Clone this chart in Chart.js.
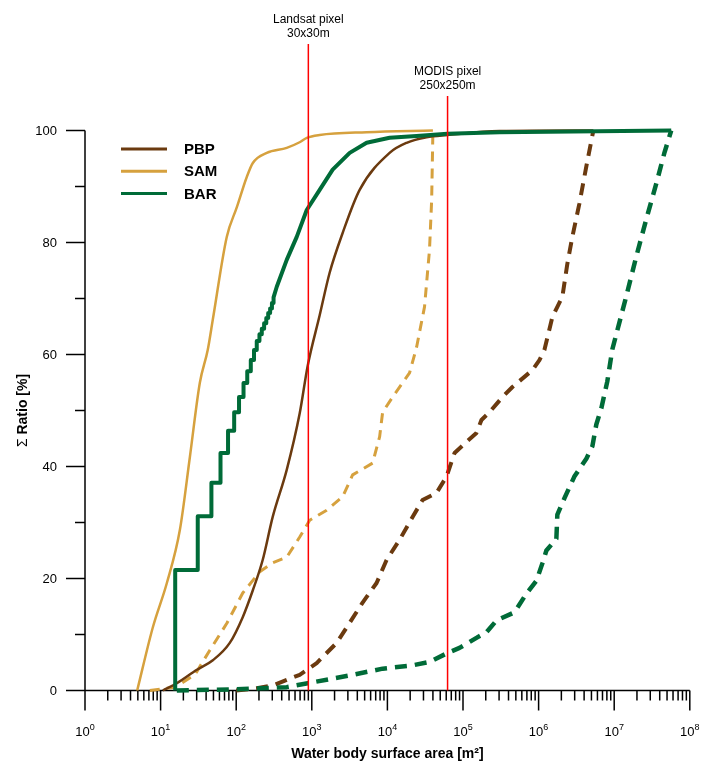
<!DOCTYPE html>
<html><head><meta charset="utf-8">
<script src="https://cdn.jsdelivr.net/npm/chart.js@4"></script>
<style>html,body{margin:0;padding:0;background:#fff}#wrap{width:702px;height:762px;position:relative}</style>
</head><body><div id="wrap"><canvas id="c" width="702" height="762"></canvas></div>
<script>
// ---------- data ----------
const seriesNames = ['PBP', 'SAM', 'BAR'];
const xTickExponents = [0, 1, 2, 3, 4, 5, 6, 7, 8];
const xMinorMultipliers = [2, 3, 4, 5, 6, 7, 8, 9];
const yMajorTicks = [0, 20, 40, 60, 80, 100];
const yMinorTicks = [10, 30, 50, 70, 90];
const markerValues = [900, 62500];
const markerLabels = [['Landsat pixel', '30x30m'], ['MODIS pixel', '250x250m']];

const pbpSolidX = [10.7, 16.4, 30.2, 49.1, 82.2, 122, 166, 224, 304, 466, 692, 883, 1271, 1722, 2559, 4295, 10690, 17950, 32960, 62370, 303400, 5300000];
const pbpSolidY = [0, 1.3, 3.7, 5.4, 8.5, 13.1, 17.9, 23.3, 31.0, 39.4, 49.5, 58.0, 67.0, 74.6, 81.7, 89.4, 96.0, 97.8, 98.8, 99.2, 99.9, 100];

const pbpDashX = [100, 187, 304, 466, 692, 1161, 2133, 3170, 4700, 7194, 9750, 14490, 21530, 29170, 44670, 60540, 77250, 111200, 150700, 175400, 223900, 332600, 450800, 827900, 1025000, 1193000, 1522000, 2062000, 2400000, 2794000, 3457000, 4280000, 5300000];
const pbpDashY = [0, 0.4, 0.9, 1.9, 2.8, 4.9, 8.5, 12.1, 15.7, 19.2, 23.3, 26.9, 31.0, 34.0, 35.3, 38.2, 42.4, 44.4, 46.0, 48.3, 49.7, 52.4, 54.2, 57.2, 59.0, 60.8, 66.7, 70.3, 76.2, 81.0, 86.9, 93.6, 100];

const samSolidX = [4.9, 7.9, 12.1, 18, 24.4, 33, 42, 49, 75, 102, 138, 166, 254, 466, 690, 860, 1270, 5300, 40000];
const samSolidY = [0, 11.3, 19.2, 28.7, 41.7, 54.9, 60.8, 66.2, 81.0, 86.3, 91.7, 94.2, 96.0, 96.9, 97.9, 98.7, 99.2, 99.7, 100];

const samDashX = [7.2, 15.5, 28.4, 44.8, 75.2, 122, 205, 304, 466, 692, 938, 1574, 2559, 3467, 6368, 7889, 8650, 11722, 19634, 24322, 30974, 36058, 38500, 40000];
const samDashY = [0, 0.6, 2.8, 7.2, 12.0, 17.4, 21.2, 22.8, 23.8, 27.4, 30.4, 32.2, 34.6, 38.5, 40.6, 45.3, 49.7, 52.4, 56.7, 61.3, 68.5, 78.7, 87.6, 100];

// BAR solid: discrete steps at small areas, then a smooth curve
const barStepX = [15.6, 31, 47, 62, 78, 94, 109, 125, 140, 156, 172, 187, 203, 218, 234, 250, 265, 281, 297, 312];
const barStepY = [21.5, 31.1, 37.1, 42.4, 46.4, 49.7, 52.4, 54.9, 57.0, 59.0, 60.8, 62.4, 63.6, 64.6, 65.6, 66.5, 67.4, 68.2, 69.2, 70.2];
const barCurveX = [344, 466, 632, 857, 1271, 1888, 3170, 5309, 10690, 24320, 62370, 303400, 56800000];
const barCurveY = [72.1, 76.9, 81.0, 85.8, 89.4, 93.0, 96.0, 97.8, 98.7, 99.0, 99.4, 99.7, 100];

const barDashX = [16.4, 90.2, 205, 466, 883, 3170, 8650, 21530, 36060, 62370, 89920, 150700, 204200, 277200, 450800, 524800, 690200, 935400, 1122000, 1268000, 1718000, 1770000, 2191000, 2970000, 4280000, 5140000, 5800000, 6760000, 8110000, 9440000, 14450000, 19600000, 26500000, 36000000, 45900000, 56800000];
const barDashY = [0, 0.2, 0.4, 0.6, 1.3, 2.7, 3.9, 4.5, 5.1, 6.7, 7.6, 9.4, 10.4, 12.5, 13.8, 14.8, 17.3, 19.6, 22.7, 25.0, 27.1, 31.4, 34.3, 38.2, 41.4, 43.6, 47.5, 50.4, 55.2, 60.9, 70.4, 77.5, 84.1, 90.5, 95.9, 100];

// ---------- build ----------
const pts = (xs, ys) => xs.map((x, i) => ({x: x, y: ys[i]}));
const barSolidPts = [];
barStepX.forEach((x, i) => {
  barSolidPts.push({x: x, y: i === 0 ? 0 : barStepY[i - 1]});
  barSolidPts.push({x: x, y: barStepY[i]});
});
barCurveX.forEach((x, i) => barSolidPts.push({x: x, y: barCurveY[i]}));

const COL = {PBP: '#6b3a0f', SAM: '#d6a13e', BAR: '#006b38', red: '#ff0000'};
const FONT = '"Liberation Sans", Arial, sans-serif';

const base = {pointRadius: 0, pointHoverRadius: 0, fill: false, clip: false, borderJoinStyle: 'round'};
const datasets = [
  Object.assign({}, base, {label: 'BAR', data: barSolidPts, borderColor: COL.BAR, borderWidth: 4, tension: 0, order: 0}),
  Object.assign({}, base, {label: 'PBP', data: pts(pbpSolidX, pbpSolidY), borderColor: COL.PBP, borderWidth: 2.5, cubicInterpolationMode: 'monotone', order: 2}),
  Object.assign({}, base, {label: 'SAM', data: pts(samSolidX, samSolidY), borderColor: COL.SAM, borderWidth: 2.5, cubicInterpolationMode: 'monotone', order: 4}),
  Object.assign({}, base, {label: 'BAR dashed', data: pts(barDashX, barDashY), borderColor: COL.BAR, borderWidth: 4.5, borderDash: [12, 8], tension: 0, order: 1}),
  Object.assign({}, base, {label: 'PBP dashed', data: pts(pbpDashX, pbpDashY), borderColor: COL.PBP, borderWidth: 4, borderDash: [12, 8], tension: 0, order: 3}),
  Object.assign({}, base, {label: 'SAM dashed', data: pts(samDashX, samDashY), borderColor: COL.SAM, borderWidth: 3, borderDash: [10, 7], tension: 0, order: 5})
];

// ---------- plugins ----------
function seg(ctx, x1, y1, x2, y2) { ctx.beginPath(); ctx.moveTo(x1, y1); ctx.lineTo(x2, y2); ctx.stroke(); }

const axesPlugin = {
  id: 'axesDraw',
  beforeDatasetsDraw(chart) {
    const ctx = chart.ctx, xs = chart.scales.x, ys = chart.scales.y;
    const x0 = xs.getPixelForValue(Math.pow(10, xTickExponents[0]));
    const x1 = xs.getPixelForValue(Math.pow(10, xTickExponents[xTickExponents.length - 1]));
    const y0 = ys.getPixelForValue(yMajorTicks[0]);
    const y1 = ys.getPixelForValue(yMajorTicks[yMajorTicks.length - 1]);
    ctx.save();
    ctx.strokeStyle = '#000'; ctx.lineWidth = 1.5; ctx.lineCap = 'butt';
    seg(ctx, x0, y1, x0, y0);
    seg(ctx, x0, y0, x1, y0);
    // y ticks
    yMinorTicks.forEach(v => { const p = ys.getPixelForValue(v); seg(ctx, x0 - 10, p, x0, p); });
    ctx.fillStyle = '#000'; ctx.font = '13px ' + FONT; ctx.textAlign = 'right'; ctx.textBaseline = 'middle';
    yMajorTicks.forEach(v => {
      const p = ys.getPixelForValue(v);
      seg(ctx, x0 - 19, p, x0, p);
      ctx.fillText(String(v), x0 - 28, p + 1);
    });
    // x ticks
    xTickExponents.forEach((k, i) => {
      const p = xs.getPixelForValue(Math.pow(10, k));
      seg(ctx, p, y0, p, y0 + 20);
      if (i < xTickExponents.length - 1) {
        xMinorMultipliers.forEach(m => {
          const q = xs.getPixelForValue(m * Math.pow(10, k));
          seg(ctx, q, y0, q, y0 + 10);
        });
      }
      ctx.textAlign = 'left'; ctx.textBaseline = 'alphabetic';
      ctx.font = '13px ' + FONT; const w1 = ctx.measureText('10').width;
      ctx.font = '9px ' + FONT; const w2 = ctx.measureText(String(k)).width;
      const sx = p - (w1 + w2) / 2;
      ctx.font = '13px ' + FONT; ctx.fillText('10', sx, y0 + 45);
      ctx.font = '9px ' + FONT; ctx.fillText(String(k), sx + w1, y0 + 39);
    });
    // axis titles
    ctx.textAlign = 'center'; ctx.textBaseline = 'alphabetic';
    ctx.font = 'bold 14px ' + FONT;
    ctx.fillText('Water body surface area [m\u00b2]', (x0 + x1) / 2, y0 + 67);
    ctx.save();
    ctx.translate(x0 - 62, (y0 + y1) / 2);
    ctx.rotate(-Math.PI / 2);
    ctx.textBaseline = 'middle';
    ctx.font = '14px ' + FONT; const ws = ctx.measureText('\u03a3 ').width;
    ctx.font = 'bold 14px ' + FONT; const wr = ctx.measureText('Ratio [%]').width;
    const st = -(ws + wr) / 2;
    ctx.textAlign = 'left';
    ctx.font = '14px ' + FONT; ctx.fillText('\u03a3 ', st, 0);
    ctx.font = 'bold 14px ' + FONT; ctx.fillText('Ratio [%]', st + ws, 0);
    ctx.restore();
    ctx.restore();
  },
  afterDatasetsDraw(chart) {
    const ctx = chart.ctx, xs = chart.scales.x, ys = chart.scales.y;
    const y0 = ys.getPixelForValue(0);
    const labelTops = [20, 72];
    ctx.save();
    markerValues.forEach((v, i) => {
      const p = xs.getPixelForValue(v);
      ctx.fillStyle = '#000'; ctx.font = '12px ' + FONT; ctx.textAlign = 'center'; ctx.textBaseline = 'middle';
      markerLabels[i].forEach((t, j) => ctx.fillText(t, p, labelTops[i] + j * 14));
      ctx.strokeStyle = COL.red; ctx.lineWidth = 1.5;
      seg(ctx, p, labelTops[i] + 24, p, y0);
    });
    // legend
    const ca = chart.chartArea;
    seriesNames.forEach((n, i) => {
      const yy = ca.top + 18.5 + i * 22.3;
      ctx.strokeStyle = COL[n]; ctx.lineWidth = 3;
      seg(ctx, ca.left + 36, yy, ca.left + 82, yy);
      ctx.fillStyle = '#000'; ctx.font = 'bold 15px ' + FONT; ctx.textAlign = 'left'; ctx.textBaseline = 'middle';
      ctx.fillText(n, ca.left + 99, yy + 1);
    });
    ctx.restore();
  }
};

new Chart(document.getElementById('c'), {
  type: 'line',
  data: {datasets: datasets},
  options: {
    responsive: false,
    animation: false,
    devicePixelRatio: 1,
    layout: {padding: {left: 85, right: 12.2, top: 130.5, bottom: 71.5}},
    scales: {
      x: {type: 'logarithmic', min: 1, max: 1e8, display: false},
      y: {type: 'linear', min: 0, max: 100, display: false}
    },
    plugins: {legend: {display: false}, tooltip: {enabled: false}}
  },
  plugins: [axesPlugin]
});
</script>
</body></html>
